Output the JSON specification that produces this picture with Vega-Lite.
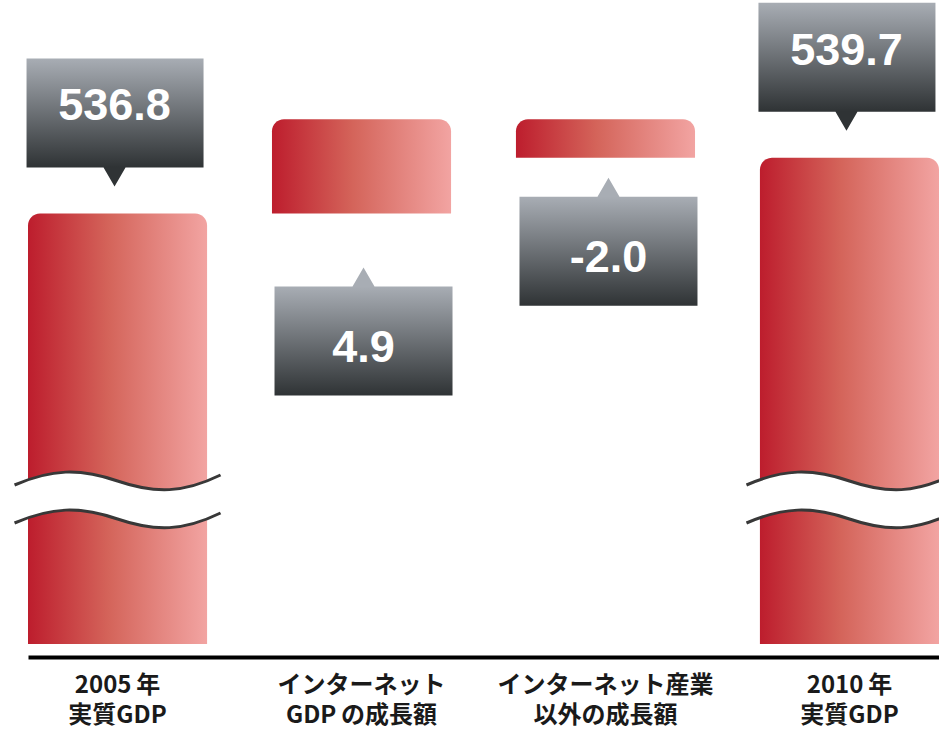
{
  "$schema": "https://vega.github.io/schema/vega-lite/v6.json",
  "width": 939,
  "height": 644,
  "autosize": {"type": "none"},
  "padding": {"top": 0, "left": 0, "right": 0, "bottom": 85},
  "background": "white",
  "config": {"view": {"stroke": null}},
  "data": {
    "values": [
      {"cat": "2005\u2009年 実質GDP", "kind": "total", "from": 0, "to": 536.8, "label": "536.8"},
      {"cat": "インターネット GDP\u2009の成長額", "kind": "increase", "from": 536.8, "to": 541.7, "label": "4.9"},
      {"cat": "インターネット産業 以外の成長額", "kind": "decrease", "from": 541.7, "to": 539.7, "label": "-2.0"},
      {"cat": "2010\u2009年 実質GDP", "kind": "total", "from": 0, "to": 539.7, "label": "539.7"}
    ]
  },
  "encoding": {
    "x": {
      "field": "cat",
      "type": "nominal",
      "sort": null,
      "scale": {"range": [28, 939], "paddingInner": 0.266, "paddingOuter": 0},
      "axis": {
        "title": null,
        "labelAngle": 0,
        "labelExpr": "split(datum.label, ' ')",
        "labelFont": "Noto Sans CJK JP",
        "labelFontSize": 24,
        "labelFontWeight": "bold",
        "labelLineHeight": 30,
        "labelColor": "#1a1a1a",
        "labelPadding": 16,
        "labelLimit": 0,
        "labelOverlap": false,
        "labelBound": false,
        "ticks": false,
        "tickSize": 0,
        "domainColor": "#000000",
        "domainWidth": 4,
        "offset": 13
      }
    }
  },
  "layer": [
    {
      "mark": {
        "type": "bar",
        "cornerRadiusTopLeft": 12,
        "cornerRadiusTopRight": 12,
        "fill": {
          "gradient": "linear", "x1": 0, "y1": 0, "x2": 1, "y2": 0,
          "stops": [
            {"offset": 0, "color": "#bd1d2d"},
            {"offset": 0.45, "color": "#d4645a"},
            {"offset": 1, "color": "#f2a4a2"}
          ]
        }
      },
      "encoding": {
        "y": {"field": "to", "type": "quantitative", "scale": {"domain": [514.4, 547.9], "clamp": true, "zero": false, "nice": false}, "axis": null},
        "y2": {"field": "from"}
      }
    },
    {
      "transform": [{"filter": "datum.kind == 'total'"}],
      "mark": {
        "type": "point",
        "shape": "M-103,-159 C-66,-175 -38,-176 0,-163 C38,-150 66,-151 103,-169 L103,-131 C66,-113 38,-112 0,-125 C-38,-138 -66,-137 -103,-121 Z",
        "size": 4,
        "filled": true,
        "opacity": 1,
        "fill": "white",
        "strokeWidth": 0
      },
      "encoding": {"y": {"field": "from", "type": "quantitative"}}
    },
    {
      "transform": [{"filter": "datum.kind == 'total'"}],
      "mark": {
        "type": "point",
        "shape": "M-103,-159 C-66,-175 -38,-176 0,-163 C38,-150 66,-151 103,-169 M-103,-121 C-66,-137 -38,-138 0,-125 C38,-112 66,-113 103,-131",
        "size": 4,
        "filled": false,
        "opacity": 1,
        "stroke": "#383838",
        "strokeWidth": 3
      },
      "encoding": {"y": {"field": "from", "type": "quantitative"}}
    },
    {
      "transform": [{"filter": "datum.kind == 'total'"}],
      "mark": {
        "type": "point",
        "shape": "M-91,-155 L86,-155 L86,-46 L8,-46 L-3,-27 L-14,-46 L-91,-46 Z",
        "size": 4,
        "filled": true,
        "opacity": 1,
        "strokeWidth": 0,
        "fill": {
          "gradient": "linear", "x1": 0, "y1": 0, "x2": 0, "y2": 1,
          "stops": [
            {"offset": 0, "color": "#a8adb4"},
            {"offset": 0.85, "color": "#2f3335"},
            {"offset": 1, "color": "#2f3335"}
          ]
        }
      },
      "encoding": {"y": {"field": "to", "type": "quantitative"}}
    },
    {
      "transform": [{"filter": "datum.kind == 'increase'"}],
      "mark": {
        "type": "point",
        "shape": "M2,54 L13,73 L91,73 L91,182 L-87,182 L-87,73 L-9,73 Z",
        "size": 4,
        "filled": true,
        "opacity": 1,
        "strokeWidth": 0,
        "fill": {
          "gradient": "linear", "x1": 0, "y1": 0, "x2": 0, "y2": 1,
          "stops": [
            {"offset": 0, "color": "#a8adb4"},
            {"offset": 0.15, "color": "#a8adb4"},
            {"offset": 1, "color": "#2f3335"}
          ]
        }
      },
      "encoding": {"y": {"field": "from", "type": "quantitative"}}
    },
    {
      "transform": [{"filter": "datum.kind == 'decrease'"}],
      "mark": {
        "type": "point",
        "shape": "M3,20 L14,39 L92,39 L92,148 L-86,148 L-86,39 L-8,39 Z",
        "size": 4,
        "filled": true,
        "opacity": 1,
        "strokeWidth": 0,
        "fill": {
          "gradient": "linear", "x1": 0, "y1": 0, "x2": 0, "y2": 1,
          "stops": [
            {"offset": 0, "color": "#a8adb4"},
            {"offset": 0.15, "color": "#a8adb4"},
            {"offset": 1, "color": "#2f3335"}
          ]
        }
      },
      "encoding": {"y": {"field": "to", "type": "quantitative"}}
    },
    {
      "transform": [{"filter": "datum.kind == 'total'"}],
      "mark": {"type": "text", "font": "Liberation Sans", "fontWeight": "bold", "fontSize": 45, "fill": "white", "align": "center", "baseline": "alphabetic", "dx": -3, "dy": -93},
      "encoding": {"y": {"field": "to", "type": "quantitative"}, "text": {"field": "label", "type": "nominal"}}
    },
    {
      "transform": [{"filter": "datum.kind == 'increase'"}],
      "mark": {"type": "text", "font": "Liberation Sans", "fontWeight": "bold", "fontSize": 45, "fill": "white", "align": "center", "baseline": "alphabetic", "dx": 2, "dy": 149},
      "encoding": {"y": {"field": "from", "type": "quantitative"}, "text": {"field": "label", "type": "nominal"}}
    },
    {
      "transform": [{"filter": "datum.kind == 'decrease'"}],
      "mark": {"type": "text", "font": "Liberation Sans", "fontWeight": "bold", "fontSize": 45, "fill": "white", "align": "center", "baseline": "alphabetic", "dx": 3, "dy": 114},
      "encoding": {"y": {"field": "to", "type": "quantitative"}, "text": {"field": "label", "type": "nominal"}}
    }
  ]
}
